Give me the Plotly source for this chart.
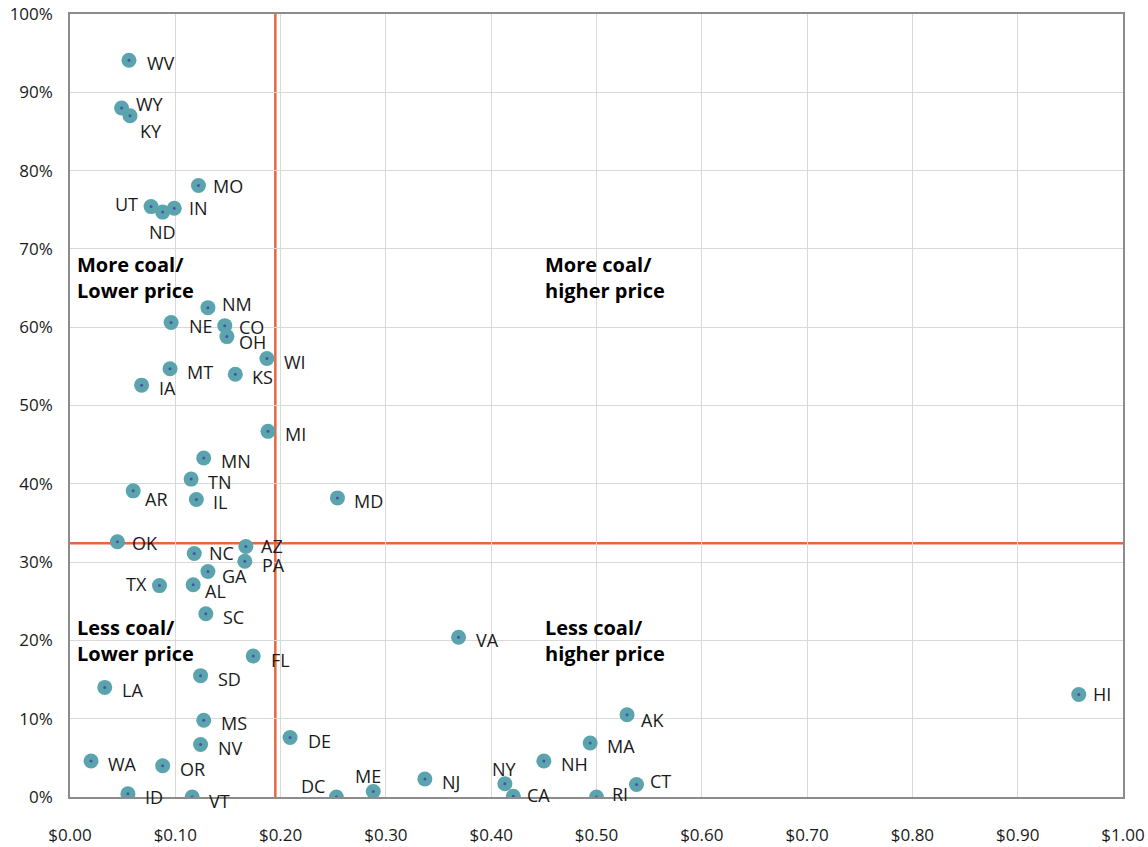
import plotly.graph_objects as go

states = ["WV","WY","KY","MO","UT","ND","IN","NM","NE","CO","OH","WI","MT","KS","IA","MI",
          "MN","TN","AR","IL","MD","OK","AZ","NC","PA","GA","TX","AL","SC","FL","SD","LA",
          "MS","DE","NV","WA","OR","ID","VT","DC","ME","NJ","NY","CA","NH","MA","AK","RI",
          "CT","HI","VA"]
price = [0.056,0.049,0.057,0.122,0.077,0.088,0.099,0.131,0.096,0.147,0.149,0.187,0.095,0.157,0.068,0.188,
         0.127,0.115,0.060,0.120,0.254,0.045,0.167,0.118,0.166,0.131,0.085,0.117,0.129,0.174,0.124,0.033,
         0.127,0.209,0.124,0.020,0.088,0.055,0.116,0.253,0.288,0.337,0.413,0.421,0.450,0.494,0.529,0.500,
         0.538,0.958,0.369]
coal = [0.941,0.880,0.870,0.781,0.754,0.747,0.752,0.625,0.606,0.602,0.588,0.560,0.547,0.540,0.526,0.467,
        0.433,0.406,0.391,0.380,0.382,0.326,0.320,0.311,0.301,0.288,0.270,0.271,0.234,0.180,0.155,0.140,
        0.098,0.076,0.067,0.046,0.040,0.004,0.000,0.000,0.007,0.023,0.017,0.001,0.046,0.069,0.105,0.000,
        0.016,0.131,0.204]

x_ticks = [i / 10 for i in range(11)]
x_tick_text = ["$%.2f" % v for v in x_ticks]
y_ticks = [i / 10 for i in range(11)]
y_tick_text = ["%d%%" % round(v * 100) for v in y_ticks]

avg_price = 0.195
avg_coal = 0.324

quadrants = [
    ("More coal/<br>Lower price", 0.005, 0.664),
    ("More coal/<br>higher price", 0.449, 0.664),
    ("Less coal/<br>Lower price", 0.005, 0.200),
    ("Less coal/<br>higher price", 0.449, 0.200),
]

# label placement (pixels): (anchor, dx, dy-down)
default_off = ("left", 15, 3)
label_off = {
    "WV": ("left", 16, 3), "WY": ("left", 12, -4), "KY": ("left", 8, 15),
    "MO": ("left", 13, 1), "UT": ("right", -11, -3), "ND": ("center", 0, 20),
    "IN": ("left", 13, 0), "NM": ("left", 12, -4), "NE": ("left", 16, 3),
    "CO": ("left", 12, 1), "OH": ("left", 10, 5), "AR": ("left", 10, 8),
    "OK": ("left", 13, 1), "AZ": ("left", 13, 0), "NC": ("left", 13, 0),
    "PA": ("left", 15, 4), "GA": ("left", 12, 4), "TX": ("right", -11, -2),
    "AL": ("left", 10, 6), "DC": ("right", -9, -11), "ME": ("center", -5, -16),
    "NY": ("center", 0, -15), "CA": ("left", 12, -1), "AK": ("left", 12, 5),
    "RI": ("left", 13, -3), "CT": ("left", 11, -3), "HI": ("left", 12, 0),
    "VT": ("left", 15, 4), "FL": ("left", 16, 4), "DE": ("left", 16, 4),
}

fig = go.Figure()
fig.add_trace(go.Scatter(x=price, y=coal, mode="markers",
                         marker=dict(size=15, color="#5BA4AE", line=dict(width=0)),
                         hoverinfo="skip", showlegend=False))
fig.add_trace(go.Scatter(x=price, y=coal, mode="markers",
                         marker=dict(size=3, color="#4654A8", line=dict(width=0)),
                         text=states, showlegend=False))

annotations = []
for s, xv, yv in zip(states, price, coal):
    anc, dx, dy = label_off.get(s, default_off)
    annotations.append(dict(x=xv, y=yv, text=s, showarrow=False, xanchor=anc, yanchor="middle",
                            xshift=dx, yshift=-dy,
                            font=dict(family="Open Sans", size=18, color="#1a1a1a")))
for t, xv, yv in quadrants:
    annotations.append(dict(x=xv, y=yv, text="<b>" + t + "</b>", showarrow=False, xanchor="left",
                            yanchor="middle", align="left",
                            font=dict(family="Open Sans", size=20, color="#000000")))

fig.add_shape(type="line", x0=avg_price, x1=avg_price, y0=0, y1=1, xref="x", yref="y",
              line=dict(color="#E4673F", width=2.5), layer="below")
fig.add_shape(type="line", x0=0, x1=1, y0=avg_coal, y1=avg_coal, xref="x", yref="y",
              line=dict(color="#E4673F", width=2.5), layer="below")

fig.update_layout(
    width=1148, height=847,
    margin=dict(l=70, r=25, t=14, b=50, pad=0),
    plot_bgcolor="white", paper_bgcolor="white",
    annotations=annotations,
    font=dict(family="Open Sans", size=16, color="#1a1a1a"),
)
fig.update_xaxes(range=[0, 1], tickvals=x_ticks, ticktext=x_tick_text, showgrid=True,
                 gridcolor="#D9D9D9", gridwidth=1, showline=True, linecolor="#8C8C8C",
                 linewidth=1.5, mirror=True, zeroline=False, ticks="", ticklen=0,
                 automargin=False, ticklabelstandoff=22,
                 tickfont=dict(family="Open Sans", size=17, color="#1a1a1a"))
fig.update_yaxes(range=[0, 1], tickvals=y_ticks, ticktext=y_tick_text, showgrid=True,
                 gridcolor="#D9D9D9", gridwidth=1, showline=True, linecolor="#8C8C8C",
                 linewidth=1.5, mirror=True, zeroline=False, ticks="", ticklen=0,
                 automargin=False, ticklabelstandoff=12,
                 tickfont=dict(family="Open Sans", size=17, color="#1a1a1a"))

fig.write_html("out.html", config={"displayModeBar": False},
               post_script="document.body.style.margin='0';")
